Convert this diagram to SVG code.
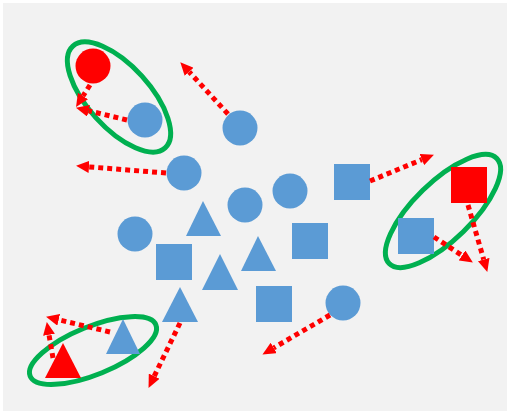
<svg xmlns="http://www.w3.org/2000/svg" width="509" height="413" viewBox="0 0 509 413">
  <defs>
    <style>
      .c { fill: #5B9BD5; }
      .r { fill: #FF0000; }
      .ring { fill: none; stroke: #00B050; stroke-width: 5; }
      .arr { fill: none; stroke: #FF0000; stroke-width: 5; stroke-dasharray: 5 4; marker-end: url(#head); }
    </style>
    <marker id="head" markerUnits="userSpaceOnUse" markerWidth="13" markerHeight="12" refX="0" refY="6" orient="auto">
      <path d="M0,0 L13,6 L0,12 z" fill="#FF0000"/>
    </marker>
  </defs>

  <rect x="3" y="3" width="504" height="408" fill="#F2F2F2"/>

  <!-- cluster outlines -->
  <g id="clusters">
    <ellipse class="ring" cx="119" cy="97" rx="68.7" ry="31" transform="rotate(47.8 119 97)"/>
    <ellipse class="ring" cx="443" cy="211" rx="75.2" ry="29" transform="rotate(-44.3 443 211)"/>
    <ellipse class="ring" cx="93" cy="350.5" rx="67.9" ry="24" transform="rotate(-22.2 93 350.5)"/>
  </g>

  <!-- circles -->
  <g id="c-red"><circle class="r" cx="93" cy="66" r="17.5"/></g>
  <g id="c1"><circle class="c" cx="145" cy="120" r="17.5"/></g>
  <g id="c2"><circle class="c" cx="240" cy="128" r="17.5"/></g>
  <g id="c3"><circle class="c" cx="184" cy="173" r="17.5"/></g>
  <g id="c4"><circle class="c" cx="290" cy="191" r="17.5"/></g>
  <g id="c5"><circle class="c" cx="245" cy="205" r="17.5"/></g>
  <g id="c6"><circle class="c" cx="135" cy="234" r="17.5"/></g>
  <g id="c7"><circle class="c" cx="343" cy="303" r="17.5"/></g>

  <!-- squares -->
  <g id="s-red"><rect class="r" x="451" y="167" width="36" height="36"/></g>
  <g id="s1"><rect class="c" x="334" y="164" width="36" height="36"/></g>
  <g id="s2"><rect class="c" x="398" y="218" width="36" height="36"/></g>
  <g id="s3"><rect class="c" x="292" y="223" width="36" height="36"/></g>
  <g id="s4"><rect class="c" x="156" y="244" width="36" height="36"/></g>
  <g id="s5"><rect class="c" x="256" y="286" width="36" height="36"/></g>

  <!-- triangles -->
  <g id="t-red"><polygon class="r" points="63,343 81,378 45,378"/></g>
  <g id="t1"><polygon class="c" points="203,201 221,236 186,236"/></g>
  <g id="t2"><polygon class="c" points="258,236 276,271 241,271"/></g>
  <g id="t3"><polygon class="c" points="220,254 238,290 202,290"/></g>
  <g id="t4"><polygon class="c" points="180,287 198,322 162,322"/></g>
  <g id="t5"><polygon class="c" points="123,319 140,354 106,354"/></g>

  <!-- displacement arrows -->
  <g id="connectors">
    <line class="arr" x1="90" y1="85" x2="83" y2="96"/>
    <line class="arr" x1="127" y1="120" x2="88.6" y2="110.8"/>
    <line class="arr" x1="228" y1="114" x2="189.1" y2="71.8"/>
    <line class="arr" x1="166" y1="173" x2="89" y2="166.9"/>
    <line class="arr" x1="370" y1="181" x2="421.9" y2="159.6"/>
    <line class="arr" x1="434" y1="237" x2="462" y2="255.4"/>
    <line class="arr" x1="468" y1="205" x2="483.7" y2="259.5"/>
    <line class="arr" x1="330" y1="315" x2="273.7" y2="347.9"/>
    <line class="arr" x1="180" y1="323" x2="154.2" y2="376.2"/>
    <line class="arr" x1="110" y1="332" x2="58.7" y2="319.8"/>
    <line class="arr" x1="53" y1="358" x2="49" y2="334.8"/>
  </g>
</svg>
